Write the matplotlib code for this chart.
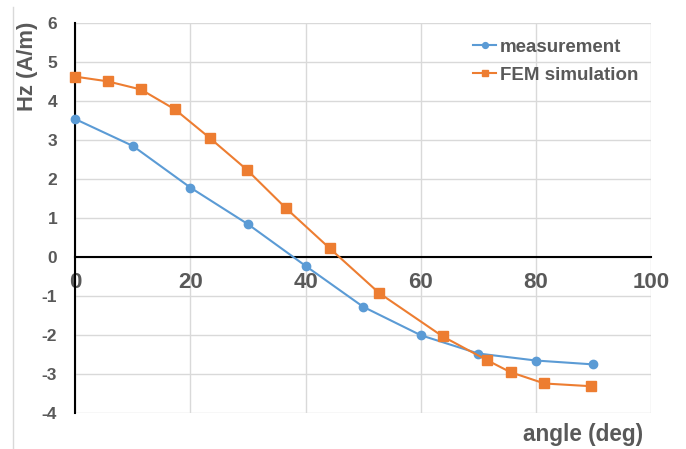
import matplotlib
matplotlib.use("Agg")
import matplotlib.pyplot as plt
from matplotlib.lines import Line2D

# measurement data
meas_angle = [0, 10, 20, 30, 40, 50, 60, 70, 80, 90]
meas_hz = [3.54, 2.85, 1.78, 0.84, -0.23, -1.28, -2.01, -2.48, -2.66, -2.76]

# FEM simulation data
fem_angle = [0, 5.6, 11.4, 17.3, 23.4, 29.8, 36.6, 44.2, 52.8, 63.8, 71.5, 75.6, 81.5, 89.6]
fem_hz = [4.63, 4.51, 4.30, 3.79, 3.05, 2.24, 1.25, 0.22, -0.93, -2.04, -2.65, -2.96, -3.25, -3.32]

x_ticks = [0, 20, 40, 60, 80, 100]
y_ticks = [-4, -3, -2, -1, 0, 1, 2, 3, 4, 5, 6]

blue = "#5B9BD5"
orange = "#ED7D31"
gray = "#595959"

plt.rcParams["font.family"] = ["Liberation Sans", "DejaVu Sans"]
plt.rcParams["font.weight"] = "bold"
plt.rcParams["axes.unicode_minus"] = False

fig = plt.figure(figsize=(6.86, 4.49), dpi=100)
ax = fig.add_axes([75.3 / 686, 1 - 412.7 / 449, (651 - 75.3) / 686, (412.7 - 23.3) / 449])

ax.plot(meas_angle, meas_hz, color=blue, marker="o", markersize=6, lw=1.5,
        label="measurement", zorder=3, clip_on=False)
ax.plot(fem_angle, fem_hz, color=orange, marker="s", markersize=6.5, lw=1.5,
        label="FEM simulation", zorder=3, clip_on=False)

ax.set_xlim(0, 100)
ax.set_ylim(-4, 6)
ax.set_xticks(x_ticks)
ax.set_yticks(y_ticks)
ax.grid(True, color="#D9D9D9", lw=1)
ax.set_axisbelow(True)

# x axis crosses at y = 0
ax.spines["bottom"].set_position(("data", 0))
ax.spines["bottom"].set_color("black")
ax.spines["bottom"].set_linewidth(1.5)
ax.spines["left"].set_color("black")
ax.spines["left"].set_linewidth(1.5)
ax.spines["top"].set_visible(False)
ax.spines["right"].set_visible(False)
ax.tick_params(length=0, colors=gray)
ax.tick_params(axis="y", pad=13, labelsize=12.5)
ax.tick_params(axis="x", pad=11, labelsize=16)

fig.text(27 / 686, 1 - 66 / 449, "Hz (A/m)", rotation=90, ha="center", va="center",
         fontsize=15.8, fontweight="bold", color=gray)
fig.text(643 / 686, 1 - 435 / 449, "angle (deg)", ha="right", va="center",
         fontsize=16.3, fontweight="bold", color=gray)

leg = ax.legend(loc="upper right", bbox_to_anchor=(638 / 686, 1 - 38.5 / 449),
                bbox_transform=fig.transFigure, frameon=False, borderaxespad=0,
                borderpad=0, prop={"size": 13.5, "weight": "bold"},
                handlelength=1.2, handletextpad=0.2, labelspacing=0.59, markerscale=0.7)
for t in leg.get_texts():
    t.set_color(gray)

fig.add_artist(Line2D([13 / 686, 13 / 686], [0, 1 - 7 / 449], color="#D9D9D9", lw=1))

fig.savefig("out.png", dpi=100)
